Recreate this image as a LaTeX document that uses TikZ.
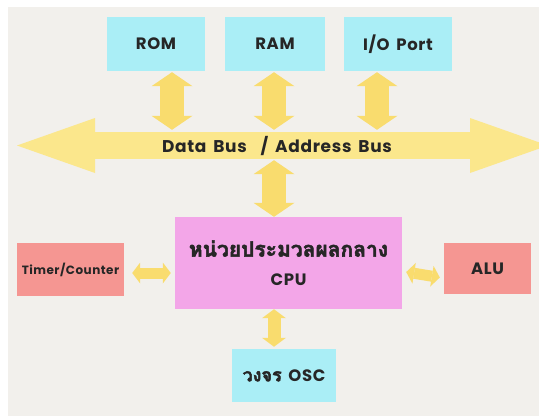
\documentclass[tikz,border=0pt]{standalone}
\usepackage{fontspec}
\usetikzlibrary{arrows.meta,calc}
\setmainfont{Poppins}[LetterSpace=4,WordSpace=1.6]
\newfontfamily\thaifont[Script=Thai,FakeBold=2.5]{Loma}
\definecolor{panel}{RGB}{242,240,236}
\definecolor{memcyan}{RGB}{170,238,246}
\definecolor{cpupink}{RGB}{243,166,232}
\definecolor{unitred}{RGB}{245,150,146}
\definecolor{arrowyel}{RGB}{249,220,110}
\definecolor{busyel}{RGB}{251,231,140}
\begin{document}
\begin{tikzpicture}[x=1pt,y=-1pt,
  box/.style={draw=none,inner sep=0pt,text=black!85},
  memblock/.style={box,fill=memcyan},
  unitblock/.style={box,fill=unitred},
  bigarrow/.style={draw=arrowyel,line width=24pt,
    {Triangle[width=41pt,length=14pt,line width=0pt]}-{Triangle[width=41pt,length=14pt,line width=0pt]}},
  smallarrow/.style={draw=arrowyel,line width=11pt,
    {Triangle[width=21pt,length=8pt,line width=0pt]}-{Triangle[width=21pt,length=8pt,line width=0pt]}},
  midarrow/.style={draw=arrowyel,line width=13pt,
    {Triangle[width=24pt,length=9pt,line width=0pt]}-{Triangle[width=24pt,length=9pt,line width=0pt]}},
  busarrow/.style={draw=busyel,line width=27pt,
    {Triangle[width=55pt,length=78pt,line width=0pt]}-{Triangle[width=55pt,length=78pt,line width=0pt]}},
  labelfont/.style={font=\bfseries\fontsize{16.5}{19}\selectfont}
]
\clip (0,0) rectangle (539,416);
\fill[white] (0,0) rectangle (539,416);
\fill[panel] (8,7) rectangle (539,416);

% memory and port blocks
\node[memblock,labelfont,minimum width=98pt,minimum height=54pt] (rom) at (156,44) {ROM};
\node[memblock,labelfont,minimum width=100pt,minimum height=54pt] (ram) at (275,44) {RAM};
\node[memblock,labelfont,minimum width=108pt,minimum height=54pt] (io) at (398,44) {I/O Port};

% system bus
\coordinate (busL) at (17,145.5);
\coordinate (busR) at (548,145.5);
\draw[busarrow] (busL) -- (busR);
\node[box,minimum height=27pt,font=\bfseries\fontsize{17}{19}\selectfont] (bus) at (277,146.5) {Data Bus~~/ Address Bus};

% processor and peripherals
\node[box,fill=cpupink,minimum width=227pt,minimum height=92pt,align=center,
  font=\bfseries\fontsize{16.5}{28}\selectfont] (cpu) at (288.5,263)
  {{\thaifont\fontsize{21}{28}\selectfont หน่วยประมวลผลกลาง}\\[1pt]CPU};
\node[unitblock,minimum width=107pt,minimum height=53pt,font=\bfseries\fontsize{12}{14}\selectfont] (timer) at (70.5,269.5) {Timer/Counter};
\node[unitblock,labelfont,minimum width=87pt,minimum height=51pt] (alu) at (487.5,268.5) {ALU};
\node[memblock,labelfont,minimum width=104pt,minimum height=53pt] (osc) at (284,375.5)
  {{\thaifont\fontsize{18}{22}\selectfont วงจร}~OSC};

% bus connections
\coordinate (romA) at ($(rom.south)+(16,1)$);
\coordinate (ramA) at ($(ram.south)+(-1,1)$);
\coordinate (ioA) at ($(io.south)+(-21,1)$);
\draw[bigarrow] (romA) -- ($(romA |- bus.north)+(0,-3)$);
\draw[bigarrow] (ramA) -- ($(ramA |- bus.north)+(0,-3)$);
\draw[bigarrow] (ioA) -- ($(ioA |- bus.north)+(0,-3)$);
\draw[bigarrow] (ramA |- bus.south) -- (ramA |- cpu.north);

% local connections of the processor
\draw[smallarrow] ($(timer.east |- cpu.center)+(8,10)$) -- ($(cpu.west)+(-4,10)$);
\draw[smallarrow] ($(cpu.east)+(4,9)$) -- ($(alu.west)+(-4,9)$);
\draw[midarrow] (ramA |- cpu.south) -- ($(ramA |- osc.north)+(0,-2)$);
\end{tikzpicture}
\end{document}
